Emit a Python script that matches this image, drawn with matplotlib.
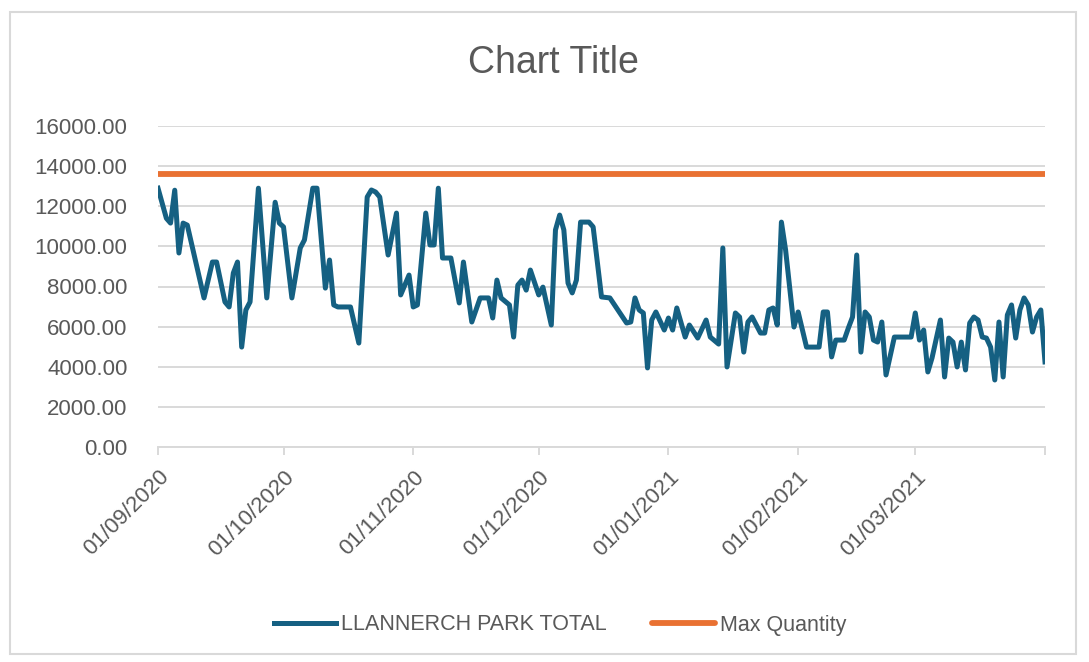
import matplotlib
matplotlib.use("Agg")
import matplotlib.pyplot as plt
from matplotlib.patches import Rectangle
import pandas as pd

# days after 01/09/2020 and total quantity at each turning point of the line
day_offsets = [0, 2, 3, 4, 5, 6, 7, 11, 13, 14, 16, 17, 18, 19, 20, 21, 22, 24, 26, 28,
               29, 30, 32, 34, 35, 37, 38, 40, 41, 42, 43, 46, 48, 50, 51, 52, 53, 55, 57, 58,
               60, 61, 62, 64, 65, 66, 67, 68, 70, 72, 73, 75, 77, 79, 80, 81, 82, 84, 85, 86,
               87, 88, 89, 91, 92, 94, 95, 96, 97, 98, 99, 100, 101, 103, 104, 106, 108, 112, 113, 114,
               115, 116, 117, 118, 119, 121, 122, 123, 124, 126, 127, 129, 131, 132, 134, 135, 136, 138, 139, 140,
               141, 142, 144, 145, 146, 147, 148, 149, 150, 152, 153, 155, 158, 159, 160, 161, 162, 164, 165, 166,
               167, 168, 169, 170, 171, 172, 173, 174, 176, 180, 181, 182, 183, 184, 185, 187, 188, 189, 190, 191,
               192, 193, 194, 195, 196, 197, 198, 199, 200, 201, 202, 203, 204, 205, 206, 207, 208, 209, 210, 211,
               212]
park_total = [12900, 11400, 11160, 12800, 9670, 11160, 11060, 7430, 9220, 9220, 7230, 6980, 8670, 9220, 4980, 6830, 7230, 12900, 7430, 12200,
              11160, 10970, 7430, 9920, 10320, 12900, 12900, 7920, 9320, 7080, 6980, 6980, 5180, 12460, 12810, 12710, 12460, 9570, 11660, 7580,
              8570, 6980, 7080, 11660, 10070, 10070, 12900, 9420, 9420, 7180, 9220, 6230, 7430, 7430, 6430, 8320, 7430, 7080, 5480, 8070,
              8320, 7820, 8820, 7580, 7970, 6080, 10820, 11560, 10820, 8170, 7680, 8320, 11210, 11210, 10970, 7480, 7430, 6180, 6230, 7430,
              6830, 6680, 3940, 6330, 6730, 5830, 6430, 5830, 6930, 5480, 6080, 5430, 6330, 5480, 5130, 9920, 3990, 6680, 6480, 4730,
              6230, 6480, 5680, 5680, 6830, 6930, 6080, 11210, 9820, 5980, 6730, 4980, 4980, 6730, 6730, 4490, 5330, 5330, 5930, 6480,
              9570, 4730, 6730, 6480, 5330, 5230, 6230, 3590, 5480, 5480, 6680, 5330, 5830, 3740, 4440, 6330, 3490, 5430, 5230, 3990,
              5230, 3840, 6180, 6480, 6330, 5480, 5430, 4980, 3340, 6230, 3490, 6580, 7080, 5430, 6830, 7430, 7080, 5730, 6480, 6830,
              4240]
max_quantity = 13600
start_date = "2020-09-01"
end_date = "2021-04-01"
tick_labels = ["01/09/2020", "01/10/2020", "01/11/2020", "01/12/2020",
               "01/01/2021", "01/02/2021", "01/03/2021"]

dates = pd.Timestamp(start_date) + pd.to_timedelta(day_offsets, unit="D")
tick_dates = pd.to_datetime(tick_labels, format="%d/%m/%Y")

plt.rcParams["font.family"] = ["Liberation Sans", "DejaVu Sans"]
text_col = "#595959"
grid_col = "#d9d9d9"

fig = plt.figure(figsize=(10.89, 6.62), dpi=100)
ax = fig.add_axes([158 / 1089, 1 - 447 / 662, (1045 - 158) / 1089, (447 - 126) / 662])

ax.plot(dates, park_total, color="#156082", lw=3.6, solid_joinstyle="round",
        label="LLANNERCH PARK TOTAL", zorder=3)
ax.plot([pd.Timestamp(start_date), pd.Timestamp(end_date)], [max_quantity, max_quantity],
        color="#E97132", lw=4.2, solid_capstyle="round", label="Max Quantity", zorder=3)

ax.set_xlim(pd.Timestamp(start_date), pd.Timestamp(end_date))
ax.set_ylim(0, 16000)
ax.set_yticks(range(0, 16001, 2000))
ax.yaxis.set_major_formatter(lambda v, p: f"{v:.2f}")
ax.grid(axis="y", color=grid_col, lw=1.4)
ax.set_axisbelow(True)

ax.set_xticks(list(tick_dates) + [pd.Timestamp(end_date)])
ax.set_xticklabels(tick_labels + [""], rotation=45, ha="right", rotation_mode="anchor")
ax.tick_params(axis="x", colors=grid_col, length=6, width=1.4, labelcolor=text_col,
               labelsize=16, pad=8)
ax.tick_params(axis="y", length=0, labelcolor=text_col, labelsize=16, pad=22)

for s in ["top", "right", "left"]:
    ax.spines[s].set_visible(False)
ax.spines["bottom"].set_color(grid_col)
ax.spines["bottom"].set_linewidth(1.4)

fig.text(553 / 1089, 1 - 63 / 662, "Chart Title", ha="center", va="center",
         fontsize=27, color=text_col)

fig.legend(loc="center", bbox_to_anchor=(560 / 1089, 1 - 625 / 662), ncol=2, frameon=False,
           fontsize=15.5, labelcolor=text_col, handlelength=2.9, handletextpad=0.25,
           columnspacing=2.1)

fig.patches.append(Rectangle((10 / 1089, 8 / 662), 1066 / 1089, 642 / 662,
                             transform=fig.transFigure, fill=False,
                             edgecolor=grid_col, lw=1.5))

fig.savefig("out.png", dpi=100)
